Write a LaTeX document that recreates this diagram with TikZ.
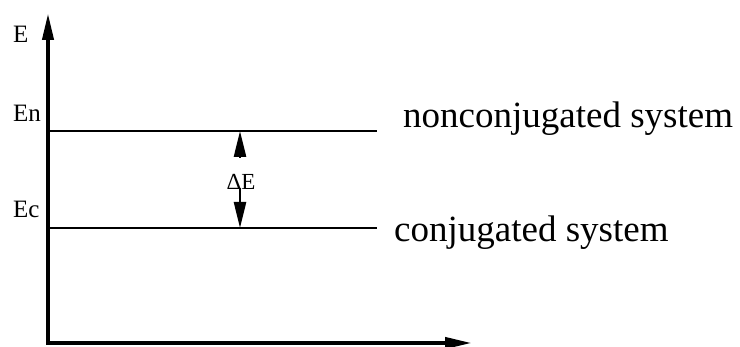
\documentclass[tikz,border=0pt]{standalone}
\usepackage{fontspec}
\setmainfont{Liberation Serif}
\usetikzlibrary{arrows.meta}
\tikzset{
  axis/.style={line width=4pt, -{Triangle[length=27pt,width=11pt]}},
  level/.style={line width=2.5pt},
  gap/.style={line width=2.5pt, -{Triangle[length=26pt,width=12pt]}},
  small/.style={font=\fontsize{25}{28}\selectfont, inner sep=0pt},
  big/.style={font=\fontsize{37}{40}\selectfont, inner sep=0pt}
}
\begin{document}
\begin{tikzpicture}[x=1pt,y=-1pt]
    \useasboundingbox (0,0) rectangle (740,347);

    % Axes
    \coordinate (origin) at (48,343);
    \coordinate (ytop) at (48,13);
    \coordinate (xend) at (472,343);
    \draw[axis] (origin) -- (ytop);
    \draw[axis] ([xshift=-2pt]origin) -- (xend);
    \node[small, anchor=base west] (elabel) at (13,43) {E};

    % Energy levels
    \coordinate (en0) at (48,131);
    \coordinate (en1) at (377,131);
    \coordinate (ec0) at (48,228);
    \coordinate (ec1) at (377,228);
    \draw[level] (en0) -- (en1);
    \draw[level] (ec0) -- (ec1);
    \node[small, anchor=base west] (enlabel) at (13,122) {En};
    \node[small, anchor=base west] (eclabel) at (13,218) {Ec};
    \node[big, anchor=base west] (nonconj) at (403,128) {nonconjugated system};
    \node[big, anchor=base west] (conj) at (394,242) {conjugated system};

    % Gap arrows
    \coordinate (up0) at (240,158);
    \coordinate (up1) at (240,131);
    \coordinate (down0) at (240,188);
    \coordinate (down1) at (240,228);
    \draw[gap] (up0) -- (up1);
    \draw[gap] (down0) -- (down1);
    \node[font=\fontsize{23}{25}\selectfont, inner sep=0pt, anchor=base] (delta) at (241,190) {ΔE};
\end{tikzpicture}
\end{document}
